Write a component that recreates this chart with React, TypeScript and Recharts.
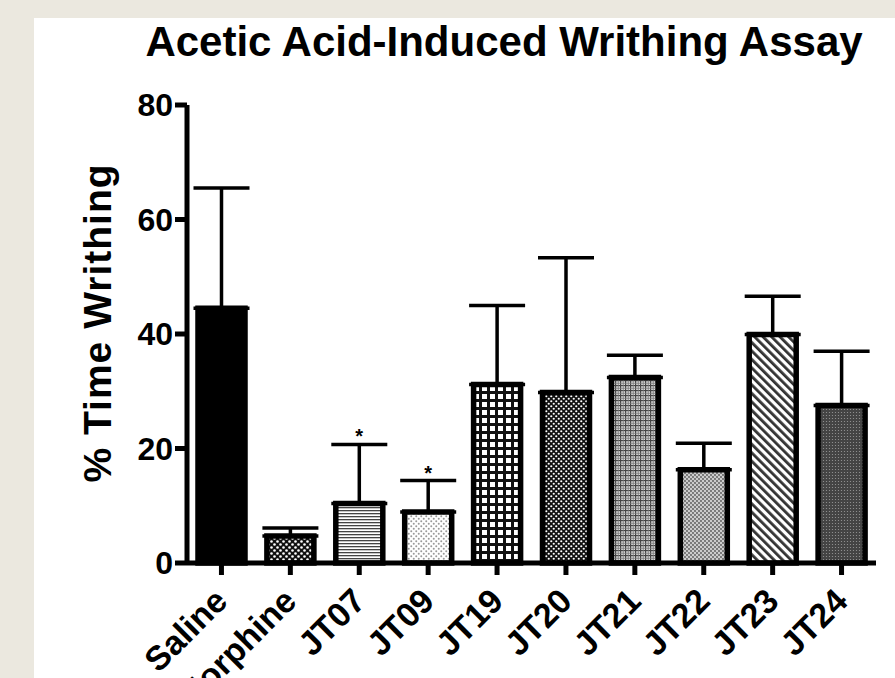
import { ComposedChart, Bar, Cell, XAxis, YAxis, ErrorBar, Line } from 'recharts';

const groups = ['Saline', 'Morphine', 'JT07', 'JT09', 'JT19', 'JT20', 'JT21', 'JT22', 'JT23', 'JT24'];
const meanWrithing = [44.5, 4.7, 10.4, 8.9, 31.2, 29.8, 32.4, 16.3, 39.9, 27.5];
const semWrithing = [21.0, 1.4, 10.3, 5.5, 13.8, 23.5, 3.9, 4.6, 6.7, 9.5];
const significant = [false, false, true, true, false, false, false, false, false, false];
const yTicks = [0, 20, 40, 60, 80];

const fills = ['#000', 'url(#pMor)', 'url(#p07)', 'url(#p09)', 'url(#p19)', 'url(#p20)', 'url(#p21)', 'url(#p22)', 'url(#p23)', 'url(#p24)'];

const chartData = groups.map((name, i) => ({
  name,
  mean: meanWrithing[i],
  err: [0, semWrithing[i]],
  star: significant[i] ? meanWrithing[i] + semWrithing[i] : null,
}));

const FONT = '"Liberation Sans", Arial, Helvetica, sans-serif';

function XTick({ x, y, payload }: any) {
  const ax = x + 8;
  const ay = y + 26;
  return (
    <text
      x={ax}
      y={ay}
      transform={`rotate(-45, ${ax}, ${ay})`}
      textAnchor="end"
      fontFamily={FONT}
      fontWeight="bold"
      fontSize={34}
      fill="#000"
    >
      {payload.value}
    </text>
  );
}

function StarDot({ cx, cy, payload }: any) {
  if (payload == null || payload.star == null || cy == null) return <g />;
  return (
    <text x={cx} y={cy - 1} textAnchor="middle" fontFamily={FONT} fontWeight="bold" fontSize={20} fill="#000">
      *
    </text>
  );
}

function Patterns() {
  return (
    <svg width={0} height={0} style={{ position: 'absolute' }}>
      <defs>
        <pattern id="pMor" width={6} height={6} patternUnits="userSpaceOnUse">
          <rect width={6} height={6} fill="#111" />
          <circle cx={1.5} cy={1.5} r={1.3} fill="#fff" />
          <circle cx={4.5} cy={4.5} r={1.3} fill="#fff" />
        </pattern>
        <pattern id="p07" width={4} height={3} patternUnits="userSpaceOnUse">
          <rect width={4} height={3} fill="#fff" />
          <rect width={4} height={1.3} fill="#444" />
        </pattern>
        <pattern id="p09" width={5} height={5} patternUnits="userSpaceOnUse">
          <rect width={5} height={5} fill="#fff" />
          <circle cx={1.25} cy={1.25} r={1} fill="#999" />
          <circle cx={3.75} cy={3.75} r={1} fill="#999" />
        </pattern>
        <pattern id="p19" width={8} height={8} patternUnits="userSpaceOnUse">
          <rect width={8} height={8} fill="#111" />
          <rect x={2} y={2} width={5} height={5} fill="#fff" />
        </pattern>
        <pattern id="p20" width={5} height={5} patternUnits="userSpaceOnUse">
          <rect width={5} height={5} fill="#111" />
          <circle cx={1.25} cy={1.25} r={1.1} fill="#fff" />
          <circle cx={3.75} cy={3.75} r={1.1} fill="#fff" />
        </pattern>
        <pattern id="p21" width={5} height={5} patternUnits="userSpaceOnUse">
          <rect width={5} height={5} fill="#ddd" />
          <rect x={0} width={1.2} height={5} fill="#444" />
          <rect y={0} width={5} height={1.2} fill="#444" />
          <rect x={2.8} width={0.8} height={5} fill="#777" />
          <rect y={2.8} width={5} height={0.8} fill="#777" />
        </pattern>
        <pattern id="p22" width={4} height={4} patternUnits="userSpaceOnUse">
          <rect width={4} height={4} fill="#ccc" />
          <circle cx={1} cy={1} r={0.9} fill="#555" />
          <circle cx={3} cy={3} r={0.9} fill="#555" />
        </pattern>
        <pattern id="p23" width={6} height={6} patternUnits="userSpaceOnUse" patternTransform="rotate(-45)">
          <rect width={6} height={6} fill="#fff" />
          <rect width={2.8} height={6} fill="#333" />
        </pattern>
        <pattern id="p24" width={3} height={3} patternUnits="userSpaceOnUse">
          <rect width={3} height={3} fill="#444" />
          <circle cx={1.5} cy={1.5} r={0.6} fill="#999" />
        </pattern>
      </defs>
    </svg>
  );
}

export default function App() {
  return (
    <div style={{ position: 'fixed', left: 0, top: 0, width: 895, height: 678, background: '#ebe8df', overflow: 'hidden' }}>
      <Patterns />
      <div style={{ position: 'absolute', left: 34, top: 18, width: 861, height: 660, background: '#fff' }} />
      <div style={{ position: 'absolute', left: 0, top: 0 }}>
        <ComposedChart width={895} height={678} data={chartData} margin={{ top: 105, right: 19, bottom: 0, left: 0 }}>
          <XAxis
            dataKey="name"
            height={115}
            axisLine={{ stroke: '#000', strokeWidth: 5 }}
            tickLine={{ stroke: '#000', strokeWidth: 5 }}
            tickSize={12}
            tick={<XTick />}
            interval={0}
          />
          <YAxis
            width={187}
            domain={[0, 80]}
            ticks={yTicks}
            axisLine={{ stroke: '#000', strokeWidth: 5 }}
            tickLine={{ stroke: '#000', strokeWidth: 5 }}
            tickSize={12}
            tickMargin={2}
            tick={{ fill: '#000', fontSize: 32, fontWeight: 'bold', fontFamily: FONT }}
          />
          <Bar dataKey="mean" barSize={47} stroke="#000" strokeWidth={5.5} isAnimationActive={false}>
            {chartData.map((d, i) => (
              <Cell key={d.name} fill={fills[i]} />
            ))}
            <ErrorBar dataKey="err" width={28} stroke="#000" strokeWidth={3.5} direction="y" isAnimationActive={false} />
          </Bar>
          <Line dataKey="star" stroke="none" dot={<StarDot />} activeDot={false} isAnimationActive={false} connectNulls={false} />
        </ComposedChart>
      </div>
      <svg width={895} height={678} style={{ position: 'absolute', left: 0, top: 0, pointerEvents: 'none' }}>
        <text x={504} y={56} textAnchor="middle" fontFamily={FONT} fontWeight="bold" fontSize={42} fill="#000">
          Acetic Acid-Induced Writhing Assay
        </text>
        <text
          x={0}
          y={0}
          transform="translate(111, 323) rotate(-90)"
          textAnchor="middle"
          fontFamily={FONT}
          fontWeight="bold"
          fontSize={39}
          letterSpacing={1}
          fill="#000"
        >
          % Time Writhing
        </text>
      </svg>
    </div>
  );
}
